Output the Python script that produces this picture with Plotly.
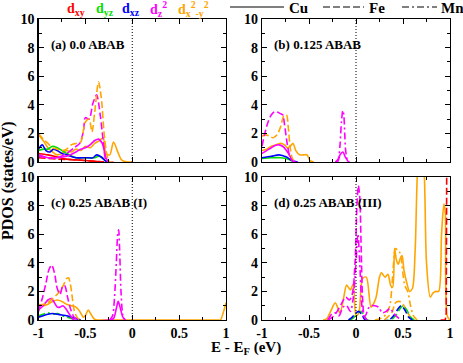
import plotly.graph_objects as go

# ---------------- data ----------------
X_TICKS = [-1, -0.5, 0, 0.5, 1]
X_TICK_TEXT = ["-1", "-0.5", "0", "0.5", "1"]
Y_TICKS = [0, 2, 4, 6, 8, 10]
Y_TICK_TEXT = ["0", "2", "4", "6", "8", "10"]

PANEL_LABELS = ["(a) 0.0 ABAB", "(b) 0.125 ABAB", "(c) 0.25 ABAB (I)", "(d) 0.25 ABAB (III)"]
ORBITALS = ["xy", "yz", "xz", "z2", "x2y2"]
ORBITAL_LABELS = ["d<sub>xy</sub>", "d<sub>yz</sub>", "d<sub>xz</sub>", "d<sub>z</sub><sup>2</sup>",
                  "d<sub>x</sub><sup>2</sup><sub>-y</sub><sup>2</sup>"]
METALS = ["Cu", "Fe", "Mn"]

# panel (a) 0.0 ABAB
A_CU_X2Y2_E = [-1, -0.95, -0.9, -0.85, -0.8, -0.75, -0.7, -0.65, -0.6, -0.55, -0.5, -0.45, -0.4, -0.35, -0.31, -0.28, -0.24, -0.2, -0.16, -0.12, -0.09, -0.05, 0]
A_CU_X2Y2 = [1.9, 1.5, 1.0, 0.7, 0.5, 0.6, 0.8, 0.7, 0.9, 0.8, 1.1, 1.0, 1.3, 1.5, 1.7, 0.6, 0.5, 1.4, 0.8, 0.2, 0.05, 0, 0]
A_FE_X2Y2_E = [-1, -0.95, -0.9, -0.85, -0.8, -0.75, -0.7, -0.65, -0.6, -0.55, -0.5, -0.46, -0.43, -0.4, -0.36, -0.33, -0.3, -0.27, -0.24, -0.2]
A_FE_X2Y2 = [2.0, 1.6, 1.3, 1.0, 0.9, 0.8, 0.9, 1.2, 1.3, 1.4, 2.8, 3.0, 2.1, 3.5, 5.6, 4.5, 2.0, 0.5, 0, 0]
A_FE_Z2_E = [-1, -0.9, -0.8, -0.7, -0.62, -0.56, -0.52, -0.5, -0.46, -0.42, -0.38, -0.34, -0.31, -0.28, -0.25]
A_FE_Z2 = [0.4, 0.3, 0.3, 0.6, 1.0, 1.3, 2.2, 3.1, 3.0, 4.1, 4.7, 3.2, 1.5, 0.1, 0]
A_CU_Z2_E = [-1, -0.9, -0.8, -0.7, -0.6, -0.55, -0.5, -0.45, -0.4, -0.36, -0.32, -0.28, -0.25, -0.2]
A_CU_Z2 = [0.5, 0.3, 0.3, 0.4, 0.7, 0.9, 1.0, 1.2, 1.5, 1.6, 1.3, 0.3, 0, 0]
A_CU_YZ_E = [-1, -0.95, -0.9, -0.85, -0.8, -0.75, -0.7, -0.6, -0.5, -0.4, -0.36, -0.32, -0.28, -0.25]
A_CU_YZ = [0.8, 0.9, 0.9, 1.1, 1.0, 0.8, 0.6, 0.3, 0.3, 0.3, 0.4, 0.3, 0.05, 0]
A_CU_XZ_E = [-1, -0.96, -0.92, -0.88, -0.84, -0.8, -0.75, -0.7, -0.6, -0.5, -0.42, -0.38, -0.33, -0.28, -0.25]
A_CU_XZ = [0.9, 1.2, 0.8, 0.7, 0.9, 0.8, 0.6, 0.5, 0.3, 0.3, 0.3, 0.5, 0.35, 0.05, 0]
A_CU_XY_E = [-1, -0.9, -0.8, -0.7, -0.6, -0.5, -0.4, -0.3]
A_CU_XY = [0.6, 0.5, 0.35, 0.2, 0.15, 0.1, 0.05, 0]
A_FE_XY_E = [-1, -0.8, -0.6, -0.4, -0.3]
A_FE_XY = [0.3, 0.2, 0.15, 0.05, 0]

# panel (b) 0.125 ABAB
B_FE_Z2_E = [-1, -0.97, -0.93, -0.9, -0.87, -0.84, -0.81, -0.78, -0.76, -0.73, -0.7, -0.66]
B_FE_Z2 = [1.1, 2.0, 2.9, 3.3, 3.5, 3.5, 3.4, 3.3, 2.6, 1.2, 0.3, 0]
B_FE_X2Y2_E = [-1, -0.96, -0.92, -0.88, -0.84, -0.8, -0.77, -0.74, -0.72, -0.7, -0.68, -0.65]
B_FE_X2Y2 = [1.8, 1.9, 1.8, 1.7, 1.9, 2.5, 3.2, 3.3, 2.4, 1.0, 0.3, 0]
B_CU_X2Y2_E = [-1, -0.95, -0.9, -0.85, -0.8, -0.76, -0.73, -0.7, -0.67, -0.64, -0.6, -0.56, -0.52, -0.49, -0.45]
B_CU_X2Y2 = [0.8, 0.9, 1.1, 1.2, 1.3, 1.2, 1.0, 1.1, 1.3, 0.8, 0.5, 0.5, 0.5, 0.1, 0]
B_CU_Z2_E = [-1, -0.95, -0.9, -0.86, -0.82, -0.78, -0.74, -0.71, -0.68, -0.65, -0.2, -0.17, -0.14, -0.11, -0.08]
B_CU_Z2 = [0.6, 0.8, 1.0, 1.15, 1.2, 1.1, 0.8, 0.5, 0.15, 0, 0, 0.5, 0.7, 0.3, 0]
B_MN_Z2_E = [-0.22, -0.19, -0.17, -0.155, -0.14, -0.13, -0.12, -0.11, -0.09, -0.07]
B_MN_Z2 = [0, 0.2, 1.2, 2.8, 3.6, 3.3, 2.0, 0.8, 0.1, 0]
B_CU_XZ_E = [-1, -0.9, -0.82, -0.74, -0.68, -0.62]
B_CU_XZ = [0.3, 0.4, 0.5, 0.35, 0.1, 0]
B_CU_YZ_E = [-1, -0.9, -0.8, -0.72, -0.66]
B_CU_YZ = [0.25, 0.3, 0.3, 0.2, 0]

# panel (c) 0.25 ABAB (I)
C_FE_Z2_E = [-1, -0.96, -0.92, -0.89, -0.86, -0.83, -0.8, -0.77, -0.74, -0.72, -0.69, -0.66, -0.62, -0.58]
C_FE_Z2 = [0.6, 1.5, 2.6, 3.5, 3.85, 3.3, 2.2, 1.8, 2.4, 2.4, 1.6, 0.8, 0.2, 0]
C_FE_X2Y2_E = [-1, -0.95, -0.9, -0.85, -0.8, -0.76, -0.73, -0.7, -0.68, -0.66, -0.64, -0.62, -0.59, -0.56]
C_FE_X2Y2 = [1.0, 1.1, 1.2, 1.5, 1.8, 2.1, 2.5, 2.9, 2.95, 2.5, 1.6, 0.7, 0.2, 0]
C_CU_X2Y2_E = [-1, -0.95, -0.9, -0.85, -0.8, -0.75, -0.7, -0.65, -0.6, -0.56, -0.52, -0.5, -0.47, -0.44, -0.41, -0.38, -0.3, 0.9, 0.94, 0.97, 1.0]
C_CU_X2Y2 = [1.1, 1.0, 1.1, 1.3, 1.4, 1.3, 1.1, 1.0, 0.9, 0.6, 0.2, 0.3, 0.7, 0.4, 0.1, 0, 0, 0, 0, 0.5, 1.2]
C_CU_Z2_E = [-1, -0.95, -0.9, -0.86, -0.83, -0.8, -0.77, -0.74, -0.71, -0.68, -0.65, -0.62, -0.25, -0.2, -0.17, -0.15, -0.13, -0.1, -0.07]
C_CU_Z2 = [0.7, 1.0, 1.4, 1.5, 1.2, 0.9, 0.9, 1.0, 0.8, 0.5, 0.2, 0, 0, 0.1, 0.8, 1.3, 0.9, 0.2, 0]
C_MN_Z2_E = [-0.24, -0.21, -0.19, -0.17, -0.155, -0.145, -0.135, -0.12, -0.1, -0.08]
C_MN_Z2 = [0, 0.3, 1.5, 4.0, 6.0, 6.3, 5.0, 2.0, 0.3, 0]
C_CU_XZ_E = [-1, -0.95, -0.9, -0.85, -0.8, -0.75, -0.7, -0.65, -0.6, -0.55]
C_CU_XZ = [0.2, 0.3, 0.4, 0.45, 0.4, 0.35, 0.3, 0.2, 0.1, 0]
C_MN_YZ_E = [-1, -0.95, -0.9, -0.85, -0.8, -0.75, -0.7, -0.65, -0.6]
C_MN_YZ = [0.3, 0.4, 0.5, 0.4, 0.45, 0.3, 0.2, 0.1, 0]

# panel (d) 0.25 ABAB (III)
D_CU_X2Y2_E = [-0.35, -0.31, -0.27, -0.22, -0.17, -0.13, -0.1, -0.06, -0.03, 0.0, 0.03, 0.07, 0.11, 0.16, 0.21, 0.25, 0.27, 0.31, 0.34, 0.37, 0.39, 0.41, 0.43, 0.45, 0.47, 0.49, 0.51, 0.54, 0.57, 0.6, 0.63, 0.66, 0.69, 0.72, 0.75, 0.79, 0.82, 0.85, 0.88, 0.91, 0.935, 0.95, 0.97, 1.0]
D_CU_X2Y2 = [0, 0.1, 0.6, 1.2, 0.5, 1.6, 2.45, 2.1, 2.5, 0.3, 0.5, 2.9, 3.0, 0.9, 1.5, 3.0, 3.3, 3.0, 3.2, 2.4, 2.3, 5.0, 4.2, 3.9, 4.3, 4.5, 3.5, 2.6, 2.0, 2.2, 5.0, 11, 12, 11, 4, 1.6, 1.9, 2.0, 2.0, 6.0, 8.1, 7.5, 0.3, 0]
D_MN_X2Y2_E = [0.2, 0.26, 0.32, 0.36, 0.38, 0.4, 0.42, 0.44, 0.46, 0.48, 0.5, 0.52, 0.55, 0.58, 0.61, 0.65]
D_MN_X2Y2 = [0, 0.1, 0.4, 1.0, 2.2, 4.0, 5.0, 4.9, 4.8, 4.3, 3.2, 2.4, 2.0, 1.0, 0.3, 0]
D_FE_X2Y2_E = [0.3, 0.38, 0.42, 0.46, 0.5, 0.55, 0.6]
D_FE_X2Y2 = [0, 0.5, 1.2, 1.3, 1.1, 0.5, 0]
D_FE_Z2_E = [-0.3, -0.25, -0.2, -0.15, -0.11, -0.07, -0.04, -0.01, 0.01, 0.025, 0.04, 0.055, 0.07, 0.09, 0.12]
D_FE_Z2 = [0, 0.2, 0.6, 1.2, 1.6, 1.4, 1.8, 4.0, 8.0, 9.4, 8.6, 5.0, 1.5, 0.2, 0]
D_MN_Z2_E = [-0.3, -0.26, -0.22, -0.18, -0.14, -0.1, -0.06, -0.03, 0.0, 0.02, 0.04, 0.06, 0.08, 0.1, 0.13, 0.16, 0.2, 0.24, 0.28, 0.32, 0.36, 0.4, 0.44, 0.48]
D_MN_Z2 = [0, 0.4, 0.5, 0.3, 0.9, 1.0, 0.6, 1.5, 4.0, 6.0, 4.0, 1.2, 0.3, 0.3, 0.8, 1.0, 1.0, 0.9, 0.5, 0.6, 0.8, 0.5, 0.2, 0]
D_FE_XZ_E = [-0.08, -0.04, 0.0, 0.03, 0.06, 0.1, 0.35, 0.4, 0.45, 0.48, 0.52, 0.56, 0.6]
D_FE_XZ = [0, 0.2, 0.5, 0.6, 0.4, 0, 0, 0.3, 0.8, 1.0, 0.7, 0.2, 0]
D_FE_YZ_E = [-0.06, -0.02, 0.02, 0.05, 0.08, 0.12, 0.37, 0.42, 0.47, 0.5, 0.54, 0.58, 0.62]
D_FE_YZ = [0, 0.2, 0.5, 0.6, 0.4, 0, 0, 0.3, 0.8, 1.0, 0.7, 0.2, 0]
D_FE_XY_E = [0.9, 0.95, 0.96, 0.965, 0.97, 1.0]
D_FE_XY = [0, 0, 0.5, 14, 20, 20]

# ---------------- styling ----------------
COLORS = {"xy": "#ff0000", "yz": "#00e000", "xz": "#0000ff", "z2": "#ff00ff", "x2y2": "#ffa500"}
DASHES = {"Cu": "solid", "Fe": "7px,3px", "Mn": "7px,3px,2px,3px"}
FONT = "Liberation Serif"
W, H = 463, 363

def px(x):
    return x / W

def py(y):
    return 1 - y / H

PANEL_X = [(38.5, 226), (262, 450)]
PANEL_Y = [(19, 162), (177, 320)]

fig = go.Figure()

panels = [
    [("Cu", "x2y2", A_CU_X2Y2_E, A_CU_X2Y2), ("Fe", "xy", A_FE_XY_E, A_FE_XY), ("Cu", "xy", A_CU_XY_E, A_CU_XY),
     ("Cu", "yz", A_CU_YZ_E, A_CU_YZ), ("Cu", "xz", A_CU_XZ_E, A_CU_XZ), ("Cu", "z2", A_CU_Z2_E, A_CU_Z2),
     ("Fe", "z2", A_FE_Z2_E, A_FE_Z2), ("Fe", "x2y2", A_FE_X2Y2_E, A_FE_X2Y2)],
    [("Cu", "yz", B_CU_YZ_E, B_CU_YZ), ("Cu", "xz", B_CU_XZ_E, B_CU_XZ), ("Cu", "x2y2", B_CU_X2Y2_E, B_CU_X2Y2),
     ("Cu", "z2", B_CU_Z2_E, B_CU_Z2), ("Fe", "x2y2", B_FE_X2Y2_E, B_FE_X2Y2), ("Fe", "z2", B_FE_Z2_E, B_FE_Z2),
     ("Mn", "z2", B_MN_Z2_E, B_MN_Z2)],
    [("Mn", "yz", C_MN_YZ_E, C_MN_YZ), ("Cu", "xz", C_CU_XZ_E, C_CU_XZ), ("Cu", "x2y2", C_CU_X2Y2_E, C_CU_X2Y2),
     ("Cu", "z2", C_CU_Z2_E, C_CU_Z2), ("Fe", "x2y2", C_FE_X2Y2_E, C_FE_X2Y2), ("Fe", "z2", C_FE_Z2_E, C_FE_Z2),
     ("Mn", "z2", C_MN_Z2_E, C_MN_Z2)],
    [("Cu", "x2y2", D_CU_X2Y2_E, D_CU_X2Y2), ("Fe", "x2y2", D_FE_X2Y2_E, D_FE_X2Y2), ("Mn", "x2y2", D_MN_X2Y2_E, D_MN_X2Y2),
     ("Fe", "yz", D_FE_YZ_E, D_FE_YZ), ("Fe", "xz", D_FE_XZ_E, D_FE_XZ), ("Mn", "z2", D_MN_Z2_E, D_MN_Z2),
     ("Fe", "z2", D_FE_Z2_E, D_FE_Z2), ("Fe", "xy", D_FE_XY_E, D_FE_XY)],
]

axis_common = dict(showgrid=False, zeroline=False, showline=True, linecolor="black", linewidth=1.2,
                   mirror="ticks", ticks="inside", tickcolor="black", ticklen=5, tickwidth=1,
                   automargin=False,
                   tickfont=dict(family=FONT, size=14, color="black", weight="bold"))

for i in range(4):
    r, c = divmod(i, 2)
    n = "" if i == 0 else str(i + 1)
    xa, ya = "x" + n, "y" + n
    x0, x1 = PANEL_X[c]
    y0, y1 = PANEL_Y[r]
    fig.layout["xaxis" + n] = dict(axis_common, domain=[px(x0), px(x1)], range=[-1, 1], anchor=ya,
                                   tickvals=X_TICKS, ticktext=X_TICK_TEXT, showticklabels=(r == 1),
                                   minor=dict(dtick=0.25, tick0=0, ticks="inside", ticklen=3, tickcolor="black"))
    fig.layout["yaxis" + n] = dict(axis_common, domain=[py(y1), py(y0)], range=[0, 10], anchor=xa,
                                   tickvals=Y_TICKS, ticktext=Y_TICK_TEXT,
                                   minor=dict(dtick=1, tick0=0, ticks="inside", ticklen=3, tickcolor="black"))
    # dotted Fermi level
    fig.add_shape(type="line", xref=xa, yref=ya + " domain", x0=0, x1=0, y0=0, y1=1,
                  line=dict(color="black", width=1, dash="1px,2px"))
    for metal, orb, E, D in panels[i]:
        fig.add_trace(go.Scatter(x=E, y=D, xaxis=xa, yaxis=ya, mode="lines", showlegend=False,
                                 hoverinfo="skip",
                                 line=dict(color=COLORS[orb], width=1.6, dash=DASHES[metal],
                                           shape="linear" if (i == 3 and orb == "xy") else "spline",
                                           smoothing=0.8),
                                 cliponaxis=True))
    fig.add_annotation(text=PANEL_LABELS[i], xref=xa + " domain", yref=ya + " domain",
                       x=0.055, y=0.82, xanchor="left", yanchor="middle", showarrow=False,
                       font=dict(family=FONT, size=13, color="black", weight="bold"))

# orbital colour key
ORB_X = [76, 105, 131, 158, 193]
for lab, orb, xp in zip(ORBITAL_LABELS, ORBITALS, ORB_X):
    fig.add_annotation(text=lab, xref="paper", yref="paper", x=px(xp), y=py(9), xanchor="center",
                       yanchor="middle", showarrow=False,
                       font=dict(family=FONT, size=14, color=COLORS[orb], weight="bold"))

# metal line-style key
KEY_LINES = [(230, 284), (323, 364), (402, 437)]
KEY_TEXT_X = [287, 367, 439]
for metal, (a, b), tx in zip(METALS, KEY_LINES, KEY_TEXT_X):
    fig.add_shape(type="line", xref="paper", yref="paper", x0=px(a), x1=px(b), y0=py(7), y1=py(7),
                  line=dict(color="black", width=1.2, dash=DASHES[metal]))
    fig.add_annotation(text=metal, xref="paper", yref="paper", x=px(tx), y=py(8), xanchor="left",
                       yanchor="middle", showarrow=False,
                       font=dict(family=FONT, size=15, color="black", weight="bold"))

fig.add_annotation(text="PDOS (states/eV)", xref="paper", yref="paper", x=px(8), y=py(181),
                   textangle=-90, showarrow=False, xanchor="center", yanchor="middle",
                   font=dict(family=FONT, size=16, color="black", weight="bold"))
fig.add_annotation(text="E - E<sub>F</sub> (eV)", xref="paper", yref="paper", x=px(246), y=py(348),
                   showarrow=False, xanchor="center", yanchor="middle",
                   font=dict(family=FONT, size=15, color="black", weight="bold"))

fig.update_layout(width=W, height=H, margin=dict(l=0, r=0, t=0, b=0, autoexpand=False),
                  paper_bgcolor="white", plot_bgcolor="white", hovermode=False)
fig.write_html("out.html", config={"displayModeBar": False, "staticPlot": True},
               post_script="document.body.style.margin='0';document.body.style.padding='0';")
